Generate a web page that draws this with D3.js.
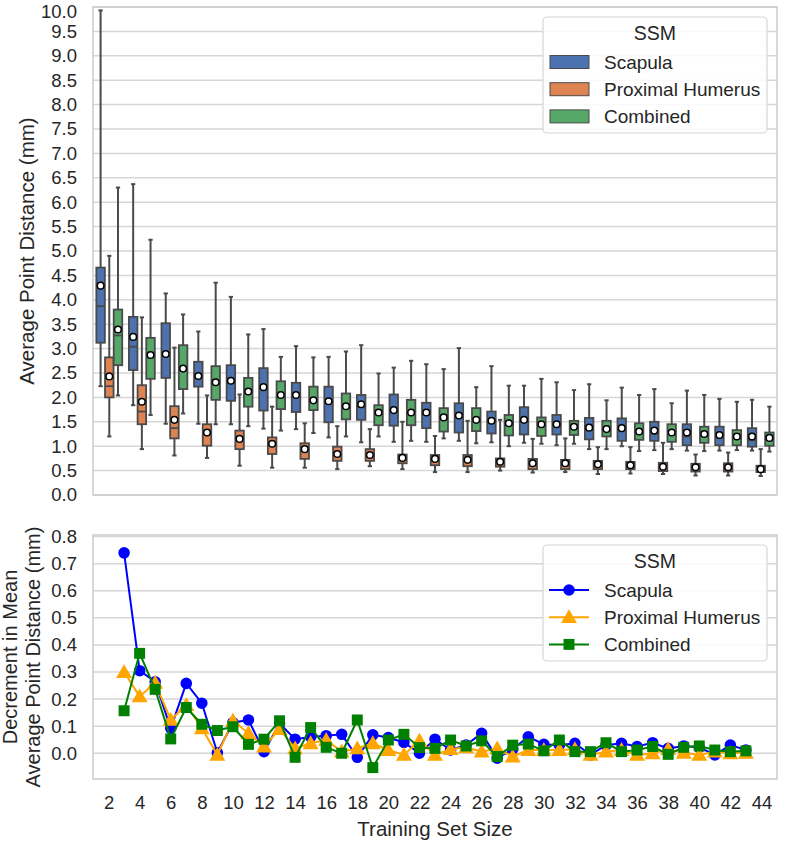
<!DOCTYPE html>
<meta charset="utf-8">
<style>
body { margin: 0; background: #fff; }
svg { font-family: 'Liberation Sans', Arial, sans-serif; }
.grid line { stroke: #d6d6d6; stroke-width: 1.5px; }
.tick text { fill: #262626; }
</style>
<svg width="787" height="841"></svg>
<script src="https://d3js.org/d3.v7.min.js"></script>
<script>
// training set sizes used for the boxplots
var boxSizes = [2, 4, 6, 8, 10, 12, 14, 16, 18, 20, 22, 24, 26, 28, 30, 32, 34, 36, 38, 40, 42];

// rows: [whisker low, q1, median, q3, whisker high, mean]
var scapulaBox = [
  [2.23, 3.12, 3.87, 4.66, 9.93, 4.29], [1.84, 2.56, 3.04, 3.65, 6.37, 3.24],
  [1.46, 2.40, 2.85, 3.52, 4.13, 2.89], [1.46, 2.22, 2.42, 2.73, 3.35, 2.44],
  [1.45, 1.93, 2.30, 2.66, 4.06, 2.34], [1.36, 1.73, 2.18, 2.60, 3.40, 2.21],
  [1.35, 1.70, 2.02, 2.30, 3.05, 2.05], [1.18, 1.49, 1.92, 2.22, 2.83, 1.92],
  [1.08, 1.54, 1.80, 2.05, 3.07, 1.86], [1.09, 1.42, 1.72, 2.06, 2.61, 1.74],
  [1.09, 1.37, 1.66, 1.89, 2.68, 1.69], [1.11, 1.28, 1.60, 1.88, 3.01, 1.63],
  [1.08, 1.26, 1.48, 1.71, 2.64, 1.52], [1.07, 1.24, 1.52, 1.80, 2.24, 1.54],
  [1.02, 1.24, 1.42, 1.64, 2.31, 1.45], [0.94, 1.14, 1.35, 1.58, 2.27, 1.38],
  [1.00, 1.11, 1.35, 1.57, 2.20, 1.37], [0.92, 1.11, 1.25, 1.50, 2.17, 1.32],
  [0.91, 1.02, 1.20, 1.45, 2.14, 1.28], [0.91, 1.02, 1.18, 1.40, 1.97, 1.23],
  [0.91, 0.99, 1.12, 1.37, 1.95, 1.20]
];
var humerusBox = [
  [1.20, 2.00, 2.23, 2.82, 4.90, 2.43], [0.94, 1.45, 1.71, 2.25, 3.64, 1.91],
  [0.81, 1.16, 1.37, 1.82, 3.02, 1.54], [0.76, 1.01, 1.25, 1.45, 2.04, 1.28],
  [0.60, 0.94, 1.12, 1.32, 2.06, 1.15], [0.56, 0.84, 1.02, 1.18, 1.81, 1.05],
  [0.56, 0.74, 0.91, 1.06, 1.47, 0.94], [0.53, 0.70, 0.82, 0.99, 1.41, 0.84],
  [0.59, 0.70, 0.80, 0.94, 1.35, 0.82], [0.53, 0.65, 0.74, 0.83, 1.50, 0.76],
  [0.47, 0.61, 0.72, 0.82, 1.21, 0.74], [0.47, 0.59, 0.70, 0.82, 1.52, 0.72],
  [0.50, 0.58, 0.67, 0.75, 1.54, 0.68], [0.46, 0.53, 0.63, 0.74, 1.15, 0.65],
  [0.47, 0.53, 0.63, 0.72, 1.16, 0.65], [0.43, 0.53, 0.61, 0.70, 0.98, 0.63],
  [0.44, 0.53, 0.60, 0.68, 0.98, 0.61], [0.43, 0.49, 0.57, 0.66, 1.07, 0.58],
  [0.40, 0.48, 0.56, 0.64, 0.83, 0.57], [0.40, 0.48, 0.56, 0.65, 0.87, 0.57],
  [0.39, 0.47, 0.52, 0.60, 0.94, 0.53]
];
var combinedBox = [
  [2.04, 2.66, 3.27, 3.80, 6.30, 3.39], [1.64, 2.38, 2.82, 3.22, 5.23, 2.87],
  [1.67, 2.17, 2.55, 3.07, 3.70, 2.59], [1.45, 1.95, 2.28, 2.64, 4.35, 2.31],
  [1.41, 1.81, 2.10, 2.40, 3.29, 2.12], [1.32, 1.76, 2.02, 2.33, 2.83, 2.05],
  [1.27, 1.74, 1.92, 2.22, 2.82, 1.94], [1.20, 1.55, 1.80, 2.08, 2.94, 1.82],
  [1.20, 1.43, 1.67, 1.84, 2.49, 1.69], [1.11, 1.43, 1.68, 1.95, 2.75, 1.69],
  [1.16, 1.30, 1.57, 1.78, 2.58, 1.59], [1.06, 1.31, 1.52, 1.78, 2.21, 1.54],
  [1.00, 1.22, 1.45, 1.64, 2.24, 1.47], [1.05, 1.21, 1.43, 1.59, 2.38, 1.45],
  [1.05, 1.23, 1.38, 1.52, 2.15, 1.40], [0.94, 1.20, 1.34, 1.52, 1.94, 1.35],
  [0.90, 1.13, 1.28, 1.47, 2.05, 1.30], [0.94, 1.09, 1.25, 1.45, 1.88, 1.28],
  [0.90, 1.07, 1.22, 1.40, 2.05, 1.25], [0.92, 1.02, 1.18, 1.33, 1.91, 1.20],
  [0.89, 1.01, 1.15, 1.28, 1.81, 1.17]
];

// decrement in mean between consecutive training set sizes
var decSizes = [3, 4, 5, 6, 7, 8, 9, 10, 11, 12, 13, 14, 15, 16, 17, 18, 19, 20, 21, 22, 23,
  24, 25, 26, 27, 28, 29, 30, 31, 32, 33, 34, 35, 36, 37, 38, 39, 40, 41, 42, 43];
var scapulaDec = [0.74, 0.305, 0.264, 0.092, 0.258, 0.185, 0.002, 0.113, 0.123, 0.006, 0.11,
  0.052, 0.06, 0.065, 0.07, -0.015, 0.068, 0.058, 0.04, 0.0, 0.052, 0.012, 0.03, 0.074,
  -0.018, 0.015, 0.061, 0.033, 0.03, 0.037, -0.006, 0.03, 0.037, 0.025, 0.039, 0.018,
  0.027, 0.022, -0.006, 0.03, 0.012];
var humerusDec = [0.30, 0.21, 0.26, 0.123, 0.178, 0.092, -0.006, 0.12, 0.074, 0.025, 0.089,
  0.018, 0.037, 0.049, 0.006, 0.018, 0.037, 0.012, -0.006, 0.047, -0.006, 0.015, 0.022,
  0.006, 0.018, -0.012, 0.012, 0.012, 0.012, 0.015, -0.006, 0.006, 0.012, -0.006, 0.0,
  0.015, 0.002, -0.006, 0.006, 0.0, 0.002];
var combinedDec = [0.157, 0.369, 0.236, 0.053, 0.169, 0.107, 0.084, 0.098, 0.033, 0.052, 0.12,
  -0.015, 0.095, 0.022, 0.0, 0.123, -0.053, 0.049, 0.07, 0.021, 0.018, 0.049, 0.027, 0.046,
  -0.012, 0.03, 0.034, 0.009, 0.049, 0.006, 0.006, 0.039, 0.006, 0.012, 0.025, -0.004,
  0.022, 0.027, 0.012, 0.006, 0.009];

var seriesNames = ["Scapula", "Proximal Humerus", "Combined"];
var boxColors = ["#4c72b0", "#dd8452", "#55a868"];
var lineColors = ["#0000ff", "#ffa500", "#008000"];
var boxData = [scapulaBox, humerusBox, combinedBox];
var decData = [scapulaDec, humerusDec, combinedDec];

var svg = d3.select("svg");
var left = 93, right = 777;
var edge = "#4a4a4a";
var spine = "#cccccc";

// ---------- top: boxplots ----------
var topY0 = 7, topY1 = 495;
var y1 = d3.scaleLinear().domain([0, 10]).range([topY1, topY0]);
var xb = d3.scaleBand().domain(boxSizes).range([left, right]);
var hue = d3.scaleBand().domain(seriesNames).range([xb.bandwidth() * 0.1, xb.bandwidth() * 0.9]);

var topG = svg.append("g");
topG.append("g").attr("class", "grid")
  .selectAll("line").data(d3.range(0, 10.01, 0.5)).enter().append("line")
    .attr("x1", left).attr("x2", right)
    .attr("y1", function(d) { return y1(d); }).attr("y2", function(d) { return y1(d); });

topG.append("g")
    .attr("transform", "translate(" + left + ",0)")
    .call(d3.axisLeft(y1).tickValues(d3.range(0, 10.01, 0.5)).tickFormat(d3.format(".1f")).tickSize(0).tickPadding(16))
    .call(function(g) { g.select(".domain").remove(); })
    .selectAll("text").style("font-size", "18.5px")
    .attr("dy", function(d) { return d > 9.9 ? "0.55em" : "0.32em"; });

var bw = hue.bandwidth() * 0.98;
boxSizes.forEach(function(size, i) {
  seriesNames.forEach(function(name, s) {
    var d = boxData[s][i];
    var cx = xb(size) + hue(name) + hue.bandwidth() / 2;
    var g = topG.append("g");
    var cap = bw * 0.5;
    g.append("line").attr("x1", cx).attr("x2", cx).attr("y1", y1(d[3])).attr("y2", y1(d[4]))
      .attr("stroke", edge).attr("stroke-width", 2);
    g.append("line").attr("x1", cx).attr("x2", cx).attr("y1", y1(d[1])).attr("y2", y1(d[0]))
      .attr("stroke", edge).attr("stroke-width", 2);
    [d[0], d[4]].forEach(function(v) {
      g.append("line").attr("x1", cx - cap / 2).attr("x2", cx + cap / 2)
        .attr("y1", y1(v)).attr("y2", y1(v)).attr("stroke", edge).attr("stroke-width", 2);
    });
    g.append("rect").attr("x", cx - bw / 2).attr("width", bw)
      .attr("y", y1(d[3])).attr("height", y1(d[1]) - y1(d[3]))
      .attr("fill", boxColors[s]).attr("stroke", edge).attr("stroke-width", 1.8);
    g.append("line").attr("x1", cx - bw / 2).attr("x2", cx + bw / 2)
      .attr("y1", y1(d[2])).attr("y2", y1(d[2])).attr("stroke", edge).attr("stroke-width", 1.8);
    g.append("circle").attr("cx", cx).attr("cy", y1(d[5])).attr("r", 3.3)
      .attr("fill", "#fff").attr("stroke", "#000").attr("stroke-width", 1.5);
  });
});

topG.append("rect").attr("x", left).attr("y", topY0).attr("width", right - left).attr("height", topY1 - topY0)
  .attr("fill", "none").attr("stroke", spine).attr("stroke-width", 1.5);

svg.append("text")
  .attr("transform", "translate(26," + (topY0 + topY1) / 2 + ") rotate(-90)")
  .attr("text-anchor", "middle").attr("dominant-baseline", "central")
  .style("font-size", "20.5px").attr("fill", "#262626")
  .text("Average Point Distance (mm)");

// legend with patches
function legend(g, x, y, draw) {
  g.append("rect").attr("x", x).attr("y", y).attr("width", 224).attr("height", 116).attr("rx", 4)
    .attr("fill", "#fff").attr("fill-opacity", 0.85).attr("stroke", "#d6d6d6").attr("stroke-width", 1.2);
  g.append("text").attr("x", x + 112).attr("y", y + 16).attr("text-anchor", "middle")
    .attr("dominant-baseline", "central").style("font-size", "19.5px").attr("fill", "#262626").text("SSM");
  seriesNames.forEach(function(name, s) {
    var cy = y + 45 + s * 27.2;
    draw(g, x, cy, s);
    g.append("text").attr("x", x + 61).attr("y", cy).attr("dominant-baseline", "central")
      .style("font-size", "19px").attr("fill", "#262626").text(name);
  });
}
legend(topG.append("g"), 543, 17, function(g, x, cy, s) {
  g.append("rect").attr("x", x + 7).attr("y", cy - 6.5).attr("width", 39).attr("height", 13)
    .attr("fill", boxColors[s]).attr("stroke", edge).attr("stroke-width", 1);
});

// ---------- bottom: decrement lines ----------
var botY0 = 535, botY1 = 779;
var x2 = d3.scaleLinear().domain([1, 45]).range([left, right]);
var y2 = d3.scaleLinear().domain([-0.095, 0.806]).range([botY1, botY0]);
var bot = svg.append("g");

bot.append("g").attr("class", "grid")
  .selectAll("line").data(d3.range(0, 0.81, 0.1)).enter().append("line")
    .attr("x1", left).attr("x2", right)
    .attr("y1", function(d) { return y2(d); }).attr("y2", function(d) { return y2(d); });

bot.append("g")
    .attr("transform", "translate(" + left + ",0)")
    .call(d3.axisLeft(y2).tickValues(d3.range(0, 0.81, 0.1)).tickFormat(d3.format(".1f")).tickSize(0).tickPadding(16))
    .call(function(g) { g.select(".domain").remove(); })
    .selectAll("text").style("font-size", "18.5px");

bot.append("g")
    .attr("transform", "translate(0," + botY1 + ")")
    .call(d3.axisBottom(x2).tickValues(d3.range(2, 45, 2)).tickSize(0).tickPadding(17))
    .call(function(g) { g.select(".domain").remove(); })
    .selectAll("text").style("font-size", "18.5px");

var symbols = [d3.symbolCircle, d3.symbolTriangle, d3.symbolSquare];
var symSize = [105, 110, 120];

function marker(g, s, px, py) {
  g.append("path").attr("d", d3.symbol().type(symbols[s]).size(symSize[s])())
    .attr("transform", "translate(" + px + "," + (py + (s == 1 ? 1.3 : 0)) + ")")
    .attr("fill", lineColors[s]);
}

decData.forEach(function(vals, s) {
  var pts = decSizes.map(function(x, i) { return [x2(x), y2(vals[i])]; });
  var g = bot.append("g");
  g.append("path").attr("d", d3.line()(pts)).attr("fill", "none")
    .attr("stroke", lineColors[s]).attr("stroke-width", 2);
  pts.forEach(function(p) { marker(g, s, p[0], p[1]); });
});

bot.append("rect").attr("x", left).attr("y", botY0).attr("width", right - left).attr("height", botY1 - botY0)
  .attr("fill", "none").attr("stroke", spine).attr("stroke-width", 1.5);

legend(bot.append("g"), 543, 545, function(g, x, cy, s) {
  g.append("line").attr("x1", x + 6).attr("x2", x + 46).attr("y1", cy).attr("y2", cy)
    .attr("stroke", lineColors[s]).attr("stroke-width", 2);
  marker(g, s, x + 26, cy);
});

var ylab = svg.append("text")
  .attr("transform", "translate(21.5," + (botY0 + botY1) / 2 + ") rotate(-90)")
  .attr("text-anchor", "middle")
  .style("font-size", "20px").attr("fill", "#262626");
ylab.append("tspan").attr("x", 0).attr("dy", "-0.56em").attr("dominant-baseline", "central").text("Decrement in Mean");
ylab.append("tspan").attr("x", 0).attr("dy", "1.15em").attr("dominant-baseline", "central").text("Average Point Distance (mm)");

svg.append("text")
  .attr("x", (left + right) / 2).attr("y", 828)
  .attr("text-anchor", "middle").attr("dominant-baseline", "central")
  .style("font-size", "20.5px").attr("fill", "#262626")
  .text("Training Set Size");
</script>
